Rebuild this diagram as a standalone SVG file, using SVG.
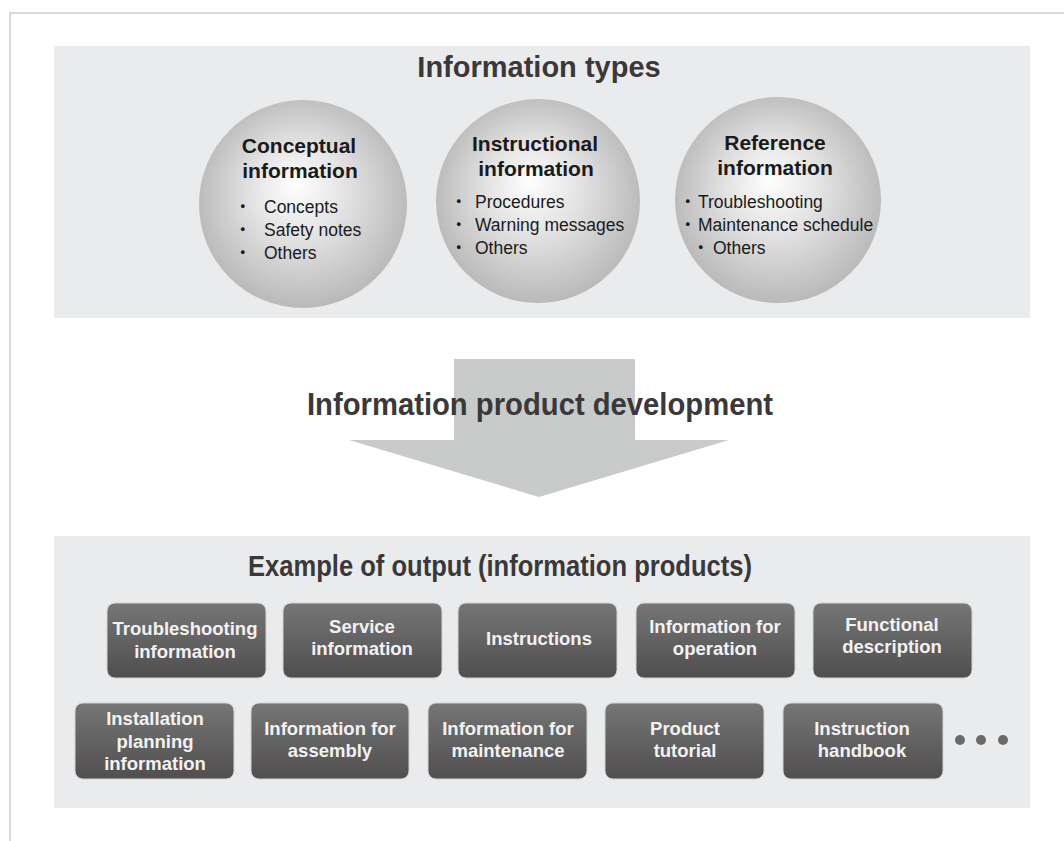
<svg xmlns="http://www.w3.org/2000/svg" width="1064" height="841" viewBox="0 0 1064 841">
<defs>
<radialGradient id="sphere" cx="50%" cy="48%" r="52%" fx="46%" fy="40%">
<stop offset="0" stop-color="#ffffff"/>
<stop offset="0.45" stop-color="#e2e2e2"/>
<stop offset="1" stop-color="#b9b9b9"/>
</radialGradient>
<linearGradient id="boxg" x1="0" y1="0" x2="0" y2="1">
<stop offset="0" stop-color="#767676"/>
<stop offset="1" stop-color="#504e4e"/>
</linearGradient>
</defs>
<style>
.panel{fill:#eaebec}
.h1{font-family:"Liberation Sans",Arial,sans-serif;font-weight:bold;fill:#3a3838;text-anchor:middle}
.ct{font-family:"Liberation Sans",Arial,sans-serif;font-weight:bold;font-size:21px;fill:#1a1a1a;text-anchor:middle}
.bl{font-family:"Liberation Sans","Noto Sans CJK JP",sans-serif;font-size:17.5px;fill:#1a1a1a}
.box{fill:url(#boxg);stroke:#d2d2d2;stroke-width:1}
.bt{font-family:"Liberation Sans",Arial,sans-serif;font-weight:bold;font-size:18.5px;fill:#f2f2f2;text-anchor:middle}
.dot{fill:#6a6a6a}
</style>
<rect width="1064" height="841" fill="#ffffff"/>
<path d="M10 841 V13 H1064" fill="none" stroke="#d9d9d9" stroke-width="2"/>

<g id="panel-types">
<rect class="panel" x="54" y="46" width="976" height="272"/>
<text class="h1" x="539" y="77" font-size="29">Information types</text>
</g>

<g id="node-conceptual">
<circle cx="303" cy="204" r="104" fill="url(#sphere)"/>
<text class="ct" x="299" y="153">Conceptual</text>
<text class="ct" x="300" y="178">information</text>
<text class="bl" y="213"><tspan x="234">・</tspan> <tspan x="264">Concepts</tspan></text>
<text class="bl" y="236"><tspan x="234">・</tspan> <tspan x="264">Safety notes</tspan></text>
<text class="bl" y="259"><tspan x="234">・</tspan> <tspan x="264">Others</tspan></text>
</g>

<g id="node-instructional">
<circle cx="538" cy="201" r="102" fill="url(#sphere)"/>
<text class="ct" x="535" y="151">Instructional</text>
<text class="ct" x="536" y="176">information</text>
<text class="bl" y="208"><tspan x="450">・</tspan> <tspan x="475">Procedures</tspan></text>
<text class="bl" y="231"><tspan x="450">・</tspan> <tspan x="475">Warning messages</tspan></text>
<text class="bl" y="254"><tspan x="450">・</tspan> <tspan x="475">Others</tspan></text>
</g>

<g id="node-reference">
<circle cx="778" cy="200" r="103" fill="url(#sphere)"/>
<text class="ct" x="775" y="150">Reference</text>
<text class="ct" x="775" y="175">information</text>
<text class="bl" y="208"><tspan x="679">・</tspan><tspan x="698">Troubleshooting</tspan></text>
<text class="bl" y="231"><tspan x="679">・</tspan><tspan x="698">Maintenance schedule</tspan></text>
<text class="bl" y="254"><tspan x="692">・</tspan> <tspan x="713">Others</tspan></text>
</g>

<g id="connectors">
<polygon points="454,359 635,359 635,440 729,440 539,497 349,440 454,440" fill="#c9caca"/>
<text class="h1" x="540" y="415" font-size="31" textLength="466" lengthAdjust="spacingAndGlyphs">Information product development</text>
</g>

<g id="panel-output">
<rect class="panel" x="54" y="536" width="976" height="272"/>
<text class="h1" x="500" y="576" font-size="29" textLength="504" lengthAdjust="spacingAndGlyphs">Example of output (information products)</text>
</g>

<g id="node-troubleshooting">
<rect class="box" x="107" y="603" width="159" height="75" rx="8"/>
<text class="bt" x="185" y="635">Troubleshooting</text>
<text class="bt" x="185" y="658">information</text>
</g>
<g id="node-service">
<rect class="box" x="283" y="603" width="159" height="75" rx="8"/>
<text class="bt" x="362" y="633">Service</text>
<text class="bt" x="362" y="655">information</text>
</g>
<g id="node-instructions">
<rect class="box" x="458" y="603" width="159" height="75" rx="8"/>
<text class="bt" x="539" y="645">Instructions</text>
</g>
<g id="node-operation">
<rect class="box" x="636" y="603" width="159" height="75" rx="8"/>
<text class="bt" x="715" y="633">Information for</text>
<text class="bt" x="715" y="655">operation</text>
</g>
<g id="node-functional">
<rect class="box" x="813" y="603" width="159" height="75" rx="8"/>
<text class="bt" x="892" y="631">Functional</text>
<text class="bt" x="892" y="653">description</text>
</g>

<g id="node-installation">
<rect class="box" x="75" y="703" width="159" height="76" rx="8"/>
<text class="bt" x="155" y="725">Installation</text>
<text class="bt" x="155" y="748">planning</text>
<text class="bt" x="155" y="770">information</text>
</g>
<g id="node-assembly">
<rect class="box" x="251" y="703" width="158" height="76" rx="8"/>
<text class="bt" x="330" y="735">Information for</text>
<text class="bt" x="330" y="757">assembly</text>
</g>
<g id="node-maintenance">
<rect class="box" x="428" y="703" width="159" height="76" rx="8"/>
<text class="bt" x="508" y="735">Information for</text>
<text class="bt" x="508" y="757">maintenance</text>
</g>
<g id="node-tutorial">
<rect class="box" x="605" y="703" width="159" height="76" rx="8"/>
<text class="bt" x="685" y="735">Product</text>
<text class="bt" x="685" y="757">tutorial</text>
</g>
<g id="node-handbook">
<rect class="box" x="783" y="703" width="160" height="76" rx="8"/>
<text class="bt" x="862" y="735">Instruction</text>
<text class="bt" x="862" y="757">handbook</text>
</g>
<g id="ellipsis">
<circle class="dot" cx="960" cy="740" r="5"/>
<circle class="dot" cx="981" cy="740" r="5"/>
<circle class="dot" cx="1003" cy="740" r="5"/>
</g>
</svg>
